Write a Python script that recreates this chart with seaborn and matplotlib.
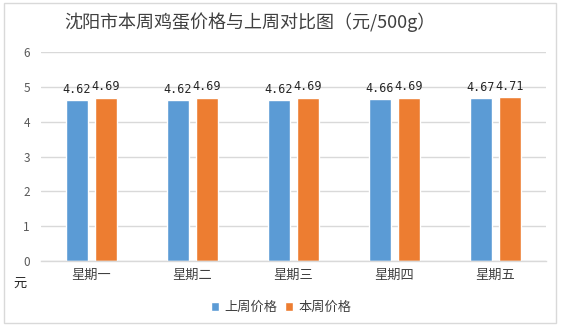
import matplotlib
matplotlib.use("Agg")
import matplotlib.pyplot as plt
from matplotlib.patches import Rectangle
import seaborn as sns
import pandas as pd

days = ["星期一", "星期二", "星期三", "星期四", "星期五"]
last_week = [4.62, 4.62, 4.62, 4.66, 4.67]
this_week = [4.69, 4.69, 4.69, 4.69, 4.71]
series_names = ["上周价格", "本周价格"]
colors = ["#5B9BD5", "#ED7D31"]

df = pd.DataFrame({
    "day": days * 2,
    "price": last_week + this_week,
    "series": [series_names[0]] * len(days) + [series_names[1]] * len(days),
})

sns.set_theme(style="white")
plt.rcParams["font.family"] = ["Noto Sans CJK SC", "DejaVu Sans"]

W, H = 562, 328
fig = plt.figure(figsize=(W / 100, H / 100), dpi=100)
ax = fig.add_axes([41 / W, 1 - 261 / H, 505 / W, 209 / H])

sns.barplot(data=df, x="day", y="price", hue="series", order=days,
            hue_order=series_names, palette=colors, width=0.574, gap=0.24,
            saturation=1, ax=ax, legend=True)

ax.set_xlim(-0.5, len(days) - 0.5)
ax.set_ylim(0, 6)
ax.set_yticks(range(0, 7))
ax.yaxis.grid(True, color="#d9d9d9", linewidth=1)
ax.set_axisbelow(True)
for side in ["top", "right", "left"]:
    ax.spines[side].set_visible(False)
ax.spines["bottom"].set_color("#d9d9d9")
ax.spines["bottom"].set_linewidth(1)
ax.tick_params(axis="y", length=0, colors="#595959", labelsize=8.5, pad=8)
ax.tick_params(axis="x", length=0, colors="#404040", labelsize=9.5, pad=6)
ax.set_xlabel("")
ax.set_ylabel("")

for container in ax.containers:
    ax.bar_label(container, fmt="%.2f", padding=3, fontsize=8.5,
                 color="#262626", family=["DejaVu Sans Mono"])

leg = ax.legend(loc="upper center", bbox_to_anchor=(0.475, -0.135), ncol=2,
                frameon=False, fontsize=9.5, handlelength=0.6,
                handleheight=0.6, handletextpad=0.4, columnspacing=0.6)
for t in leg.get_texts():
    t.set_color("#404040")

fig.text(20 / W, 1 - 283 / H, "元", fontsize=9.5, color="#262626",
         ha="center", va="center")
fig.text(250 / W, 1 - 22 / H, "沈阳市本周鸡蛋价格与上周对比图（元/500g）",
         fontsize=13, color="#404040", ha="center", va="center")

fig.patches.append(Rectangle((4 / W, 1 - 323 / H), 552 / W, 320 / H,
                             transform=fig.transFigure, fill=False,
                             edgecolor="#d9d9d9", linewidth=1))

fig.savefig("out.png", dpi=100)
